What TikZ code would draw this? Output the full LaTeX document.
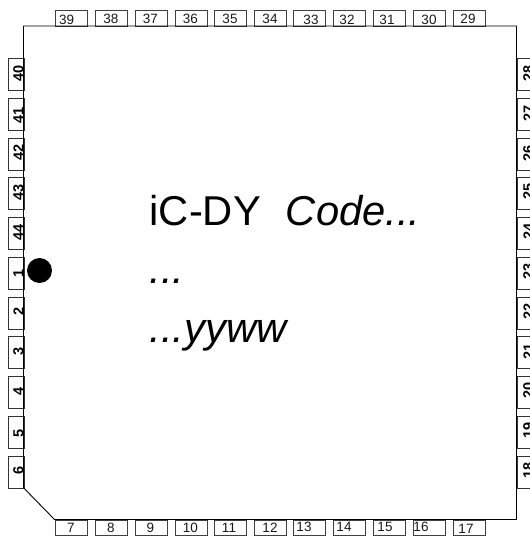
\documentclass[tikz,border=0pt]{standalone}
\usepackage{fontspec}
\setmainfont{Liberation Sans}
\tikzset{
  x=1pt,y=-1pt,
  pinbox/.style={draw=black!75,line width=0.8pt,fill=white,minimum width=32pt,minimum height=16pt,inner sep=0pt,anchor=north west},
  lowbox/.style={pinbox,minimum height=15pt},
  sidebox/.style={draw=black!80,line width=0.8pt,fill=white,minimum width=16pt,minimum height=32pt,inner sep=0pt,anchor=north west},
  hnum/.style={font=\fontsize{13.5}{14}\selectfont,inner sep=0pt,text=black!90},
  vnum/.style={font=\fontsize{14.5}{15}\selectfont\bfseries,inner sep=0pt,rotate=90},
  big/.style={font=\fontsize{41.7}{44}\selectfont,inner sep=0pt,anchor=base west},
  bigit/.style={big,font=\fontsize{41.7}{44}\selectfont\itshape},
}
\begin{document}
\begin{tikzpicture}
\useasboundingbox (0,0) rectangle (530,536);
\clip (0,0) rectangle (530,536);
% top pins
\foreach \n/\x/\tx/\ty in {39/54.5/66.6/20,38/94.5/111/18.5,37/134.5/150.5/18.5,36/174.5/190.5/18.5,35/214/230/18.5,34/254/270/18.5,33/293/311/20,32/333/347/20,31/373/387/20,30/413/429/20,29/452.5/468/18.5}{
  \node[pinbox] (p\n) at (\x,10) {};
  \node[hnum] (t\n) at (\tx,\ty) {\n};
}
% bottom pins
\foreach \n/\x/\tx/\ty in {7/54.5/71/528,8/94.5/111/528,9/134.5/150.5/528,10/174.5/190.5/528,11/214/229/528,12/254/270/528,13/293/304/527,14/333/344/527,15/373/385/527,16/413/421/527,17/452.5/466/529}{
  \node[lowbox] (p\n) at (\x,519.5) {};
  \node[hnum] (t\n) at (\tx,\ty) {\n};
}
% left pins
\foreach \n/\y/\ty in {40/58/73.5,41/98/115,42/137.5/152.5,43/177/192.5,44/217/232.5,1/257/273,2/296.5/311.5,3/336/351.5,4/376/391,5/416/433,6/456/470.5}{
  \node[sidebox] (p\n) at (7.5,\y) {};
  \node[vnum] (t\n) at (18.5,\ty) {\n};
}
% right pins
\foreach \n/\y/\ty in {28/58/73.5,27/98/113.5,26/137.5/153.5,25/177/191.5,24/217/231.5,23/257/271.5,22/296.5/311.5,21/336/351.5,20/376/390.5,19/416/430,18/456/470}{
  \node[sidebox] (p\n) at (516.5,\y) {};
  \node[vnum] (t\n) at (528.5,\ty) {\n};
}
% body
\draw[line width=0.9pt] (23.5,26) -- (516.5,26) -- (516.5,519.5) -- (54.5,519.5) -- (23.5,487.7) -- cycle;
\fill (39.5,270.5) circle (12.5);
\node[big] (l1) at (149.5,225) {iC-DY\hspace{0.6em}\itshape Code...};
\node[bigit] (l2) at (149.5,283) {...};
\node[bigit] (l3) at (149.5,342) {...yyww};
\end{tikzpicture}
\end{document}
